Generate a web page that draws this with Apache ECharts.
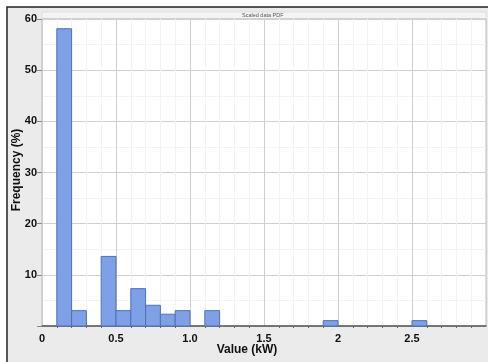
<!DOCTYPE html>
<html><head><meta charset="utf-8">
<script src="https://cdn.jsdelivr.net/npm/echarts@6/dist/echarts.min.js"></script>
<style>html,body{margin:0;padding:0;background:#fff}#c{width:488px;height:362px}</style>
</head><body><div id="c"></div>
<script>
// Histogram bins (start of bin, kW) and frequency (%)
const binStarts = [0.1, 0.2, 0.4, 0.5, 0.6, 0.7, 0.8, 0.9, 1.1, 1.9, 2.5];
const frequencies = [58.1, 3.0, 13.6, 3.0, 7.3, 4.05, 2.3, 3.0, 3.0, 1.05, 1.05];
const binWidth = 0.1;
const xTickLabels = {0: '0', 0.5: '0.5', 1: '1.0', 1.5: '1.5', 2: '2', 2.5: '2.5'};
const yTicks = [10, 20, 30, 40, 50, 60];

const chart = echarts.init(document.getElementById('c'));
const data = binStarts.map((s, i) => [s, s + binWidth, frequencies[i]]);
const labelFont = {fontFamily: 'Liberation Sans, Arial, sans-serif', fontWeight: 'bold', fontSize: 11, color: '#111'};

chart.setOption({
  animation: false,
  backgroundColor: '#fff',
  graphic: [
    {type: 'rect', z: -10, shape: {x: 7, y: 7, width: 500, height: 380}, style: {fill: '#ebebeb', stroke: '#222', lineWidth: 1.5}},
    {type: 'rect', z: -9, shape: {x: 42, y: 12, width: 444, height: 7}, style: {fill: '#f4f4f4', stroke: '#cfcfcf', lineWidth: 0.5}},
    {type: 'text', z: 10, x: 242, y: 12, style: {text: 'Scaled data PDF', fontSize: 5.5, fill: '#555', fontFamily: 'Liberation Sans, Arial'}},
    {type: 'text', z: 10, x: 247, y: 350, style: {text: 'Value (kW)', fontSize: 12, fontWeight: 'bold', fill: '#111', align: 'center', verticalAlign: 'middle', fontFamily: 'Liberation Sans, Arial'}},
    {type: 'text', z: 10, x: 17, y: 170, rotation: Math.PI / 2, style: {text: 'Frequency (%)', fontSize: 12, fontWeight: 'bold', fill: '#111', align: 'center', verticalAlign: 'middle', fontFamily: 'Liberation Sans, Arial'}}
  ],
  grid: {left: 42, right: 2, top: 19, bottom: 36, show: true, backgroundColor: '#fff', borderColor: '#bbb', borderWidth: 1},
  xAxis: {
    type: 'value', min: 0, max: 3, interval: 0.5,
    axisLine: {show: true, onZero: false, lineStyle: {color: '#555', width: 1.5}},
    axisTick: {show: false},
    minorTick: {show: true, splitNumber: 5, length: 2, lineStyle: {color: '#666'}},
    splitLine: {show: true, lineStyle: {color: '#cfcfcf', width: 1}},
    minorSplitLine: {show: true, lineStyle: {color: '#f3f3f3', width: 1}},
    axisLabel: Object.assign({margin: 7, showMaxLabel: false, formatter: v => (xTickLabels[v] !== undefined ? xTickLabels[v] : '')}, labelFont)
  },
  yAxis: {
    type: 'value', min: 0, max: 60, interval: 10,
    axisLine: {show: false},
    axisTick: {show: true, length: 5, lineStyle: {color: '#888'}},
    splitLine: {show: true, lineStyle: {color: '#cfcfcf', width: 1}},
    minorTick: {show: false, splitNumber: 2},
    minorSplitLine: {show: true, lineStyle: {color: '#f3f3f3', width: 1}},
    axisLabel: Object.assign({margin: 5, formatter: v => (yTicks.indexOf(v) >= 0 ? String(v) : '')}, labelFont)
  },
  series: [{
    type: 'custom',
    data: data,
    encode: {x: [0, 1], y: 2},
    renderItem: function (params, api) {
      const p0 = api.coord([api.value(0), 0]);
      const p1 = api.coord([api.value(1), api.value(2)]);
      return {
        type: 'rect',
        shape: {x: p0[0], y: p1[1], width: p1[0] - p0[0], height: p0[1] - p1[1]},
        style: {fill: '#7ea0e6', stroke: '#5070b0', lineWidth: 1}
      };
    }
  }]
});
</script></body></html>
